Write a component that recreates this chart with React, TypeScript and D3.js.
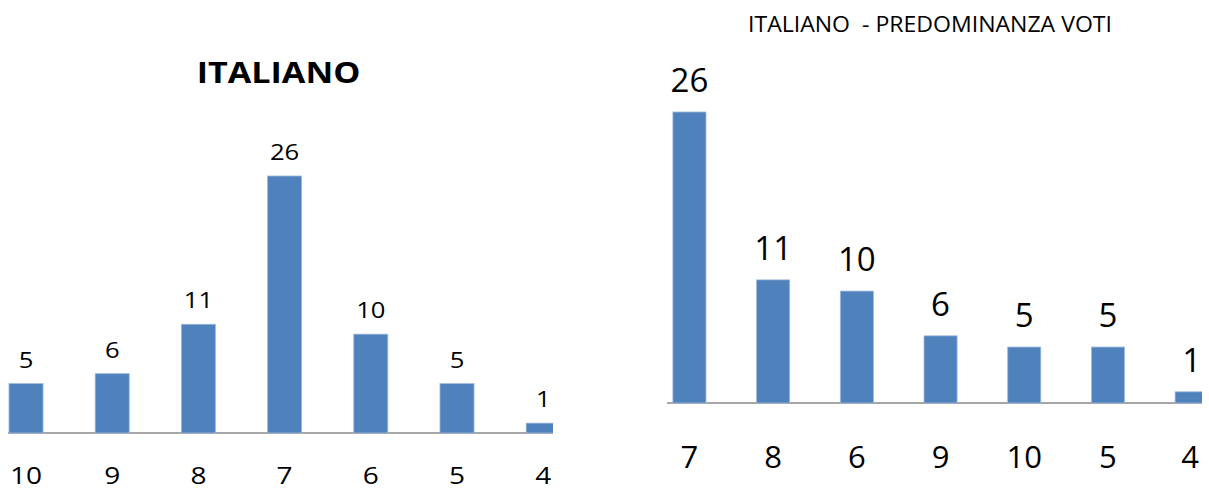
import React from "react";
import * as d3 from "d3";

const leftTitle = "ITALIANO";
const leftCategories = ["10", "9", "8", "7", "6", "5", "4"];
const leftValues = [5, 6, 11, 26, 10, 5, 1];

const rightTitle = "ITALIANO  - PREDOMINANZA VOTI";
const rightCategories = ["7", "8", "6", "9", "10", "5", "4"];
const rightValues = [26, 11, 10, 6, 5, 5, 1];

const W = 1209;
const H = 491;
const BAR = "#4f81bd";
const FONT = "'Open Sans', 'Noto Sans', sans-serif";

export default function App() {
  // Left chart
  const lx = d3.scaleBand<string>().domain(leftCategories).range([-17.1, 586.3]).paddingInner(0.605).paddingOuter(0.3025);
  const ly = d3.scaleLinear().domain([0, 26]).range([433, 176]);
  const lsx = 1.22;

  // Right chart
  const rx = d3.scaleBand<string>().domain(rightCategories).range([647.6, 1233.5]).paddingInner(0.605).paddingOuter(0.3025);
  const ry = d3.scaleLinear().domain([0, 26]).range([403, 112]);

  const stretched = (x: number, y: number, s: number) => `translate(${x},${y}) scale(${s},1)`;

  return (
    <svg width={W} height={H} style={{ position: "absolute", left: 0, top: 0, background: "#fff" }}>
      <defs>
        <clipPath id="clipL">
          <rect x={0} y={0} width={553} height={H} />
        </clipPath>
        <clipPath id="clipR">
          <rect x={600} y={0} width={602} height={H} />
        </clipPath>
      </defs>

      {/* Left chart */}
      <g fontFamily={FONT}>
        <text
          transform={stretched(278.5, 83, lsx)}
          textAnchor="middle"
          fontSize={28}
          fontWeight={700}
          fill="#000"
        >
          {leftTitle}
        </text>
        <g clipPath="url(#clipL)">
          <line x1={8} x2={560} y1={ly(0)} y2={ly(0)} stroke="#8a8a8a" strokeWidth={1.5} />
          {leftCategories.map((c, i) => (
            <rect
              key={c}
              x={lx(c)!}
              y={ly(leftValues[i])}
              width={lx.bandwidth()}
              height={ly(0) - ly(leftValues[i])}
              fill={BAR}
              stroke="#9db8dc"
              strokeWidth={0.8}
            />
          ))}
        </g>
        {leftCategories.map((c, i) => (
          <text
            key={"lv" + c}
            transform={stretched(lx(c)! + lx.bandwidth() / 2, ly(leftValues[i]) - 16, lsx)}
            textAnchor="middle"
            fontSize={21}
            fill="#000"
          >
            {leftValues[i]}
          </text>
        ))}
        {leftCategories.map((c) => (
          <text
            key={"lc" + c}
            transform={stretched(lx(c)! + lx.bandwidth() / 2, 484, lsx)}
            textAnchor="middle"
            fontSize={23}
            fill="#000"
          >
            {c}
          </text>
        ))}
      </g>

      {/* Right chart */}
      <g fontFamily={FONT}>
        <text
          x={930}
          y={32}
          textAnchor="middle"
          fontSize={21}
          textLength={364}
          lengthAdjust="spacingAndGlyphs"
          fill="#000"
          style={{ whiteSpace: "pre" }}
        >
          {rightTitle}
        </text>
        <g clipPath="url(#clipR)">
          <line x1={667} x2={1209} y1={ry(0)} y2={ry(0)} stroke="#a6a6a6" strokeWidth={2} />
          {rightCategories.map((c, i) => (
            <rect
              key={c}
              x={rx(c)!}
              y={ry(rightValues[i])}
              width={rx.bandwidth()}
              height={ry(0) - ry(rightValues[i])}
              fill={BAR}
              stroke="#9db8dc"
              strokeWidth={0.8}
            />
          ))}
        </g>
        {rightCategories.map((c, i) => (
          <text
            key={"rv" + c}
            x={Math.min(rx(c)! + rx.bandwidth() / 2, 1196)}
            y={ry(rightValues[i]) - 20}
            textAnchor="middle"
            fontSize={33}
            fill="#000"
          >
            {rightValues[i]}
          </text>
        ))}
        {rightCategories.map((c) => (
          <text
            key={"rc" + c}
            x={Math.min(rx(c)! + rx.bandwidth() / 2, 1190)}
            y={468}
            textAnchor="middle"
            fontSize={31}
            fill="#000"
          >
            {c}
          </text>
        ))}
      </g>
    </svg>
  );
}
